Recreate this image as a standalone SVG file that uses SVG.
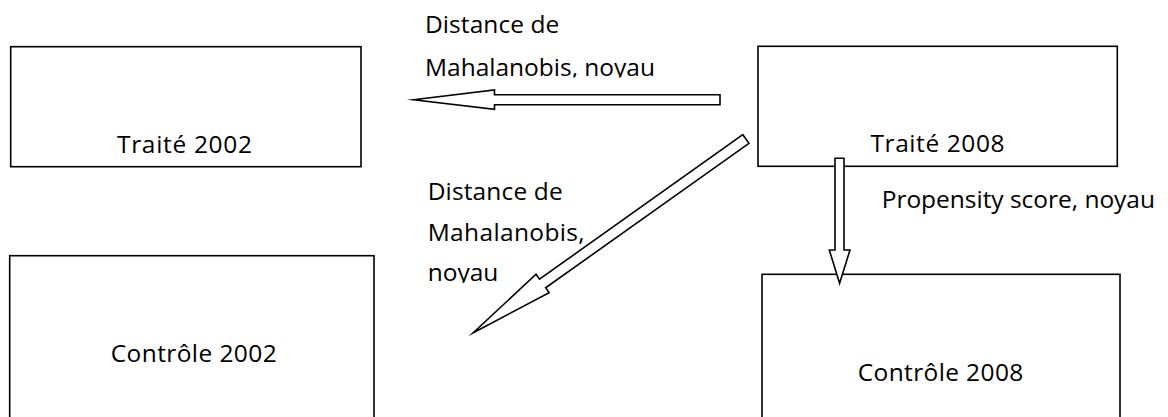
<svg xmlns="http://www.w3.org/2000/svg" width="1168" height="417" viewBox="0 0 1168 417">
  <style>
    .box { fill: #ffffff; stroke: #000000; stroke-width: 1.6; }
    .arrow { fill: #ffffff; stroke: #000000; stroke-width: 1.6; stroke-linejoin: miter; stroke-miterlimit: 20; }
    .lbl { font-family: "Open Sans", "Noto Sans", "Liberation Sans", sans-serif; font-size: 24.5px; fill: #000000; }
  </style>
  <defs>
    <!-- text frames that cut off descenders at their lower edge -->
    <clipPath id="frameTop">
      <rect x="400" y="0" width="300" height="77.5"/>
    </clipPath>
    <clipPath id="frameDiag">
      <rect x="400" y="170" width="220" height="112.8"/>
    </clipPath>
  </defs>

  <rect x="0" y="0" width="1168" height="417" fill="#ffffff"/>

  <g id="traite-2002">
    <rect class="box" x="10.7" y="46.7" width="350.3" height="120"/>
    <text class="lbl" x="117" y="152.7" textLength="135">Traité 2002</text>
  </g>

  <g id="traite-2008">
    <rect class="box" x="758" y="46.3" width="359.3" height="120"/>
    <text class="lbl" x="870.5" y="151.7" textLength="134">Traité 2008</text>
  </g>

  <g id="controle-2002">
    <rect class="box" x="9.7" y="255.7" width="364.3" height="175"/>
    <text class="lbl" x="110.7" y="361.7" textLength="166">Contrôle 2002</text>
  </g>

  <g id="controle-2008">
    <rect class="box" x="762" y="274.3" width="358" height="175"/>
    <text class="lbl" x="857.7" y="380.7" textLength="165.6">Contrôle 2008</text>
  </g>

  <g id="connectors">
    <!-- Traité 2008 -> Traité 2002 -->
    <polygon class="arrow" points="413.5,99.7 494.5,90 494.5,94.7 720,94.7 720,104.7 494.5,104.7 494.5,109.3"/>
    <!-- Traité 2008 -> Contrôle 2002 -->
    <polygon class="arrow" transform="translate(473.3,332.7) rotate(-35.4)"
             points="0,0 85,11.3 85,5.3 334.4,5.3 334.4,-5.3 85,-5.3 85,-11.3"/>
    <!-- Traité 2008 -> Contrôle 2008 -->
    <polygon class="arrow" points="835,158.3 844,158.3 844,250 850,250 839.6,283.3 829.3,250 835,250"/>
  </g>

  <g id="labels">
    <g clip-path="url(#frameTop)">
      <text class="lbl" x="425" y="33.3" textLength="134.3">Distance de</text>
      <text class="lbl" x="425" y="76" textLength="230">Mahalanobis, noyau</text>
    </g>
    <g clip-path="url(#frameDiag)">
      <text class="lbl" x="427.7" y="200" textLength="135">Distance de</text>
      <text class="lbl" x="427.7" y="240.7" textLength="157">Mahalanobis,</text>
      <text class="lbl" x="427.7" y="280.7" textLength="70.6">noyau</text>
    </g>
    <text class="lbl" x="881.7" y="208.3" textLength="273.3">Propensity score, noyau</text>
  </g>
</svg>
